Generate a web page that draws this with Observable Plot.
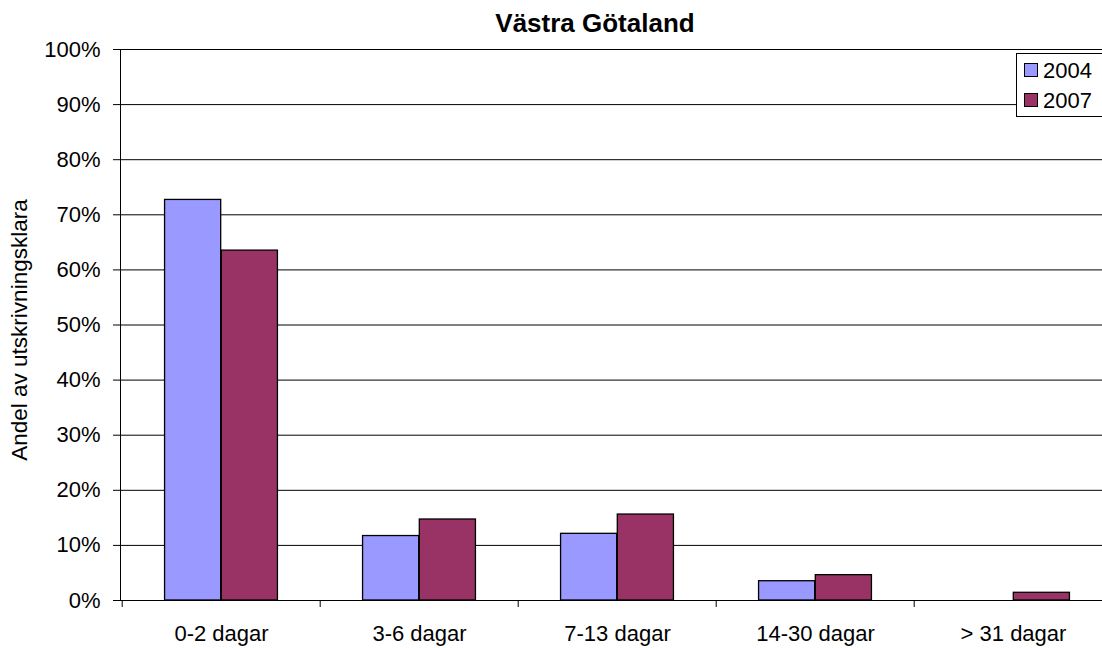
<!DOCTYPE html>
<html>
<head>
<meta charset="utf-8">
<script src="https://cdn.jsdelivr.net/npm/d3@7"></script>
<script src="https://cdn.jsdelivr.net/npm/@observablehq/plot@0.6"></script>
<style>
  html, body { margin: 0; padding: 0; background: #fff; overflow: hidden; }
  #wrap { position: relative; width: 1102px; height: 648px; overflow: hidden; font-family: "Liberation Sans", Arial, sans-serif; color: #000; }
  #chart { position: absolute; left: 0; top: 0; width: 1113px; }
  #chart svg { max-width: none !important; }
  #title { position: absolute; left: 395px; top: 10px; width: 400px; text-align: center; font-size: 26px; line-height: 26px; font-weight: bold; }
  #ylabel { position: absolute; left: -180px; top: 319px; width: 400px; height: 22px; line-height: 22px; font-size: 22.5px; text-align: center; transform: rotate(-90deg); white-space: nowrap; }
  #legend { position: absolute; left: 1016px; top: 53px; width: 120px; height: 62px; border: 1px solid #000; background: #fff; }
  .sw { position: absolute; width: 12px; height: 12px; border: 1px solid #000; }
  .lt { position: absolute; font-size: 22px; line-height: 22px; white-space: nowrap; }
</style>
</head>
<body>
<div id="wrap">
  <div id="chart"></div>
  <div id="title"></div>
  <div id="ylabel"></div>
  <div id="legend"></div>
</div>
<script>
const titleText = "Västra Götaland";
const yLabelText = "Andel av utskrivningsklara";
const categories = ["0-2 dagar", "3-6 dagar", "7-13 dagar", "14-30 dagar", "> 31 dagar"];
const years = ["2004", "2007"];
const values2004 = [0.727, 0.117, 0.121, 0.035, 0];
const values2007 = [0.635, 0.147, 0.156, 0.046, 0.014];
const colors = ["#9999FF", "#993366"];
const yTicks = [0, 0.1, 0.2, 0.3, 0.4, 0.5, 0.6, 0.7, 0.8, 0.9, 1];

const W = 1113, H = 648, mL = 120, mR = 0, mT = 49, mB = 48;
const bw = (W - mL - mR) / categories.length;
const step = bw / 3.5;

const data2004 = categories.map((c, i) => ({cat: c, year: years[0], value: values2004[i]}));
const data2007 = categories.map((c, i) => ({cat: c, year: years[1], value: values2007[i]}));

const chart = Plot.plot({
  width: W, height: H,
  marginLeft: mL, marginRight: mR, marginTop: mT, marginBottom: mB,
  style: {fontFamily: "'Liberation Sans', Arial, sans-serif", fontSize: "22px", color: "#000", background: "transparent", maxWidth: "none"},
  x: {type: "band", domain: categories, padding: 0, axis: null},
  y: {domain: [0, 1], axis: null},
  color: {domain: years, range: colors},
  marks: [
    Plot.gridY(yTicks, {stroke: "#000", strokeOpacity: 1, strokeWidth: 1}),
    Plot.frame({anchor: "left", stroke: "#000"}),
    Plot.axisY(yTicks, {tickFormat: d => Math.round(d * 100) + "%", tickSize: 7, tickPadding: 13, label: null, fontSize: 22}),
    Plot.axisX({tickSize: 0, tickPadding: 25, label: null, fontSize: 22}),
    Plot.axisX({tickSize: 7, tickFormat: () => "", label: null, dx: -bw / 2}),
    Plot.barY(data2004, {x: "cat", y: "value", fill: "year", stroke: "#000", strokeWidth: 1.3, insetLeft: 0.75 * step, insetRight: 1.75 * step}),
    Plot.barY(data2007, {x: "cat", y: "value", fill: "year", stroke: "#000", strokeWidth: 1.3, insetLeft: 1.75 * step, insetRight: 0.75 * step})
  ]
});
document.getElementById("chart").appendChild(chart);
document.getElementById("title").textContent = titleText;
document.getElementById("ylabel").textContent = yLabelText;

const legend = document.getElementById("legend");
years.forEach((y, i) => {
  const sw = document.createElement("div");
  sw.className = "sw";
  sw.style.left = "7px";
  sw.style.top = (9 + i * 30) + "px";
  sw.style.background = colors[i];
  legend.appendChild(sw);
  const t = document.createElement("div");
  t.className = "lt";
  t.style.left = "26px";
  t.style.top = (6 + i * 29.5) + "px";
  t.textContent = y;
  legend.appendChild(t);
});
</script>
</body>
</html>
